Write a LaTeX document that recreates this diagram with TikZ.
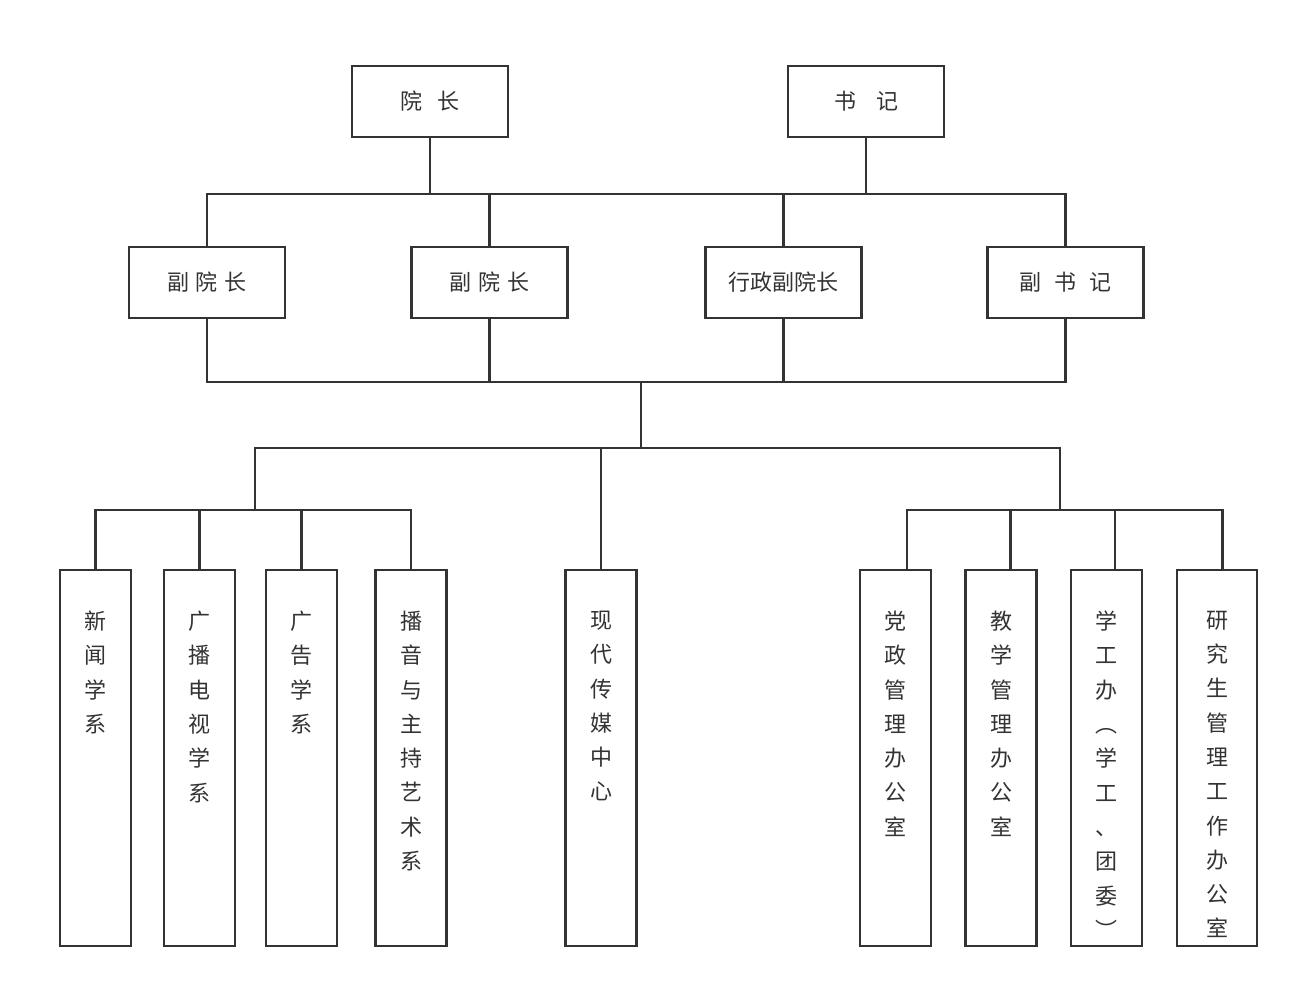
\documentclass[tikz,border=0pt]{standalone}
\usepackage{fontspec}
\newfontfamily\cjk{Noto Sans CJK SC}
\usetikzlibrary{positioning, calc}
\definecolor{orggray}{HTML}{333333}

\begin{document}
\begin{tikzpicture}[
    x=1pt, y=-1pt,
    every node/.style={font=\cjk\fontsize{22}{34.3}\selectfont, text=orggray},
    head/.style={draw=orggray, line width=2.4pt, minimum width=156pt, minimum height=71pt, inner sep=0pt},
    unit/.style={draw=orggray, line width=2.4pt, minimum width=71pt, minimum height=376pt, inner sep=0pt},
    vtext/.style={label={[align=center, anchor=north, inner sep=0pt, yshift=-42pt]north:#1}},
    link/.style={draw=orggray, line width=2.4pt},
  ]
  \useasboundingbox[fill=white] (0,0) rectangle (1304,1002);

  % Leaders
  \node[head] (yz) at (430,101.5) {院\hspace{16pt}长};
  \node[head] (sj) at (866,101.5) {书\hspace{20pt}记};

  % Deputies
  \node[head] (fy1) at (207,282.5) {副\hspace{7pt}院\hspace{7pt}长};
  \node[head] (fy2) at (489.5,282.5) {副\hspace{7pt}院\hspace{7pt}长};
  \node[head] (xz) at (783.5,282.5) {行政副院长};
  \node[head] (fsj) at (1065.5,282.5) {副\hspace{13pt}书\hspace{13pt}记};

  % Departments
  \node[unit, vtext={新\\闻\\学\\系}] (xw) at (95.5,758) {};
  \node[unit, vtext={广\\播\\电\\视\\学\\系}] (gb) at (199.5,758) {};
  \node[unit, vtext={广\\告\\学\\系}] (gg) at (301.5,758) {};
  \node[unit, vtext={播\\音\\与\\主\\持\\艺\\术\\系}] (by) at (411,758) {};
  \node[unit, vtext={现\\代\\传\\媒\\中\\心}] (xd) at (601,758) {};

  % Offices
  \node[unit, vtext={党\\政\\管\\理\\办\\公\\室}] (dz) at (895.5,758) {};
  \node[unit, vtext={教\\学\\管\\理\\办\\公\\室}] (jx) at (1001,758) {};
  \node[unit, vtext={学\\工\\办\\︵\\学\\工\\、\\团\\委\\︶}] (xg) at (1106.5,758) {};
  \node[unit, minimum width=80pt, vtext={研\\究\\生\\管\\理\\工\\作\\办\\公\\室}] (yjs) at (1217,758) {};

  % Bars
  \coordinate (topbar) at (0,194);
  \coordinate (midbar) at (0,382);
  \coordinate (trunk) at (641,382);
  \coordinate (lowbar) at (641,448);
  \coordinate (lbar) at (255,448);
  \coordinate (rbar) at (1060,448);
  \coordinate (lgrp) at (255,510);
  \coordinate (rgrp) at (1060,510);
  \coordinate (dzin) at ([xshift=11.5pt]dz.north);
  \coordinate (jxin) at ([xshift=9.5pt]jx.north);
  \coordinate (xgin) at ([xshift=8.5pt]xg.north);
  \coordinate (yjsin) at ([xshift=5.5pt]yjs.north);

  % Leaders to deputies
  \draw[link] (fy1.north) -- (fy1 |- topbar) -- (fsj |- topbar) -- (fsj.north);
  \draw[link] (yz.south) -- (yz |- topbar);
  \draw[link] (sj.south) -- (sj |- topbar);
  \foreach \n in {fy2, xz}
    \draw[link] (\n.north) -- (\n |- topbar);

  % Deputies to units
  \draw[link] (fy1.south) -- (fy1 |- midbar) -- (fsj |- midbar) -- (fsj.south);
  \foreach \n in {fy2, xz}
    \draw[link] (\n.south) -- (\n |- midbar);
  \draw[link] (trunk) -- (lowbar);
  \draw[link] (lgrp) -- (lbar) -- (rbar) -- (rgrp);
  \draw[link] (xd |- lowbar) -- (xd.north);

  % Left group
  \draw[link] (xw.north) -- (xw |- lgrp) -- (by |- lgrp) -- (by.north);
  \foreach \n in {gb, gg}
    \draw[link] (\n |- lgrp) -- (\n.north);

  % Right group
  \draw[link] (dzin) -- (dzin |- rgrp) -- (yjsin |- rgrp) -- (yjsin);
  \foreach \n in {jxin, xgin}
    \draw[link] (\n |- rgrp) -- (\n);
\end{tikzpicture}
\end{document}
